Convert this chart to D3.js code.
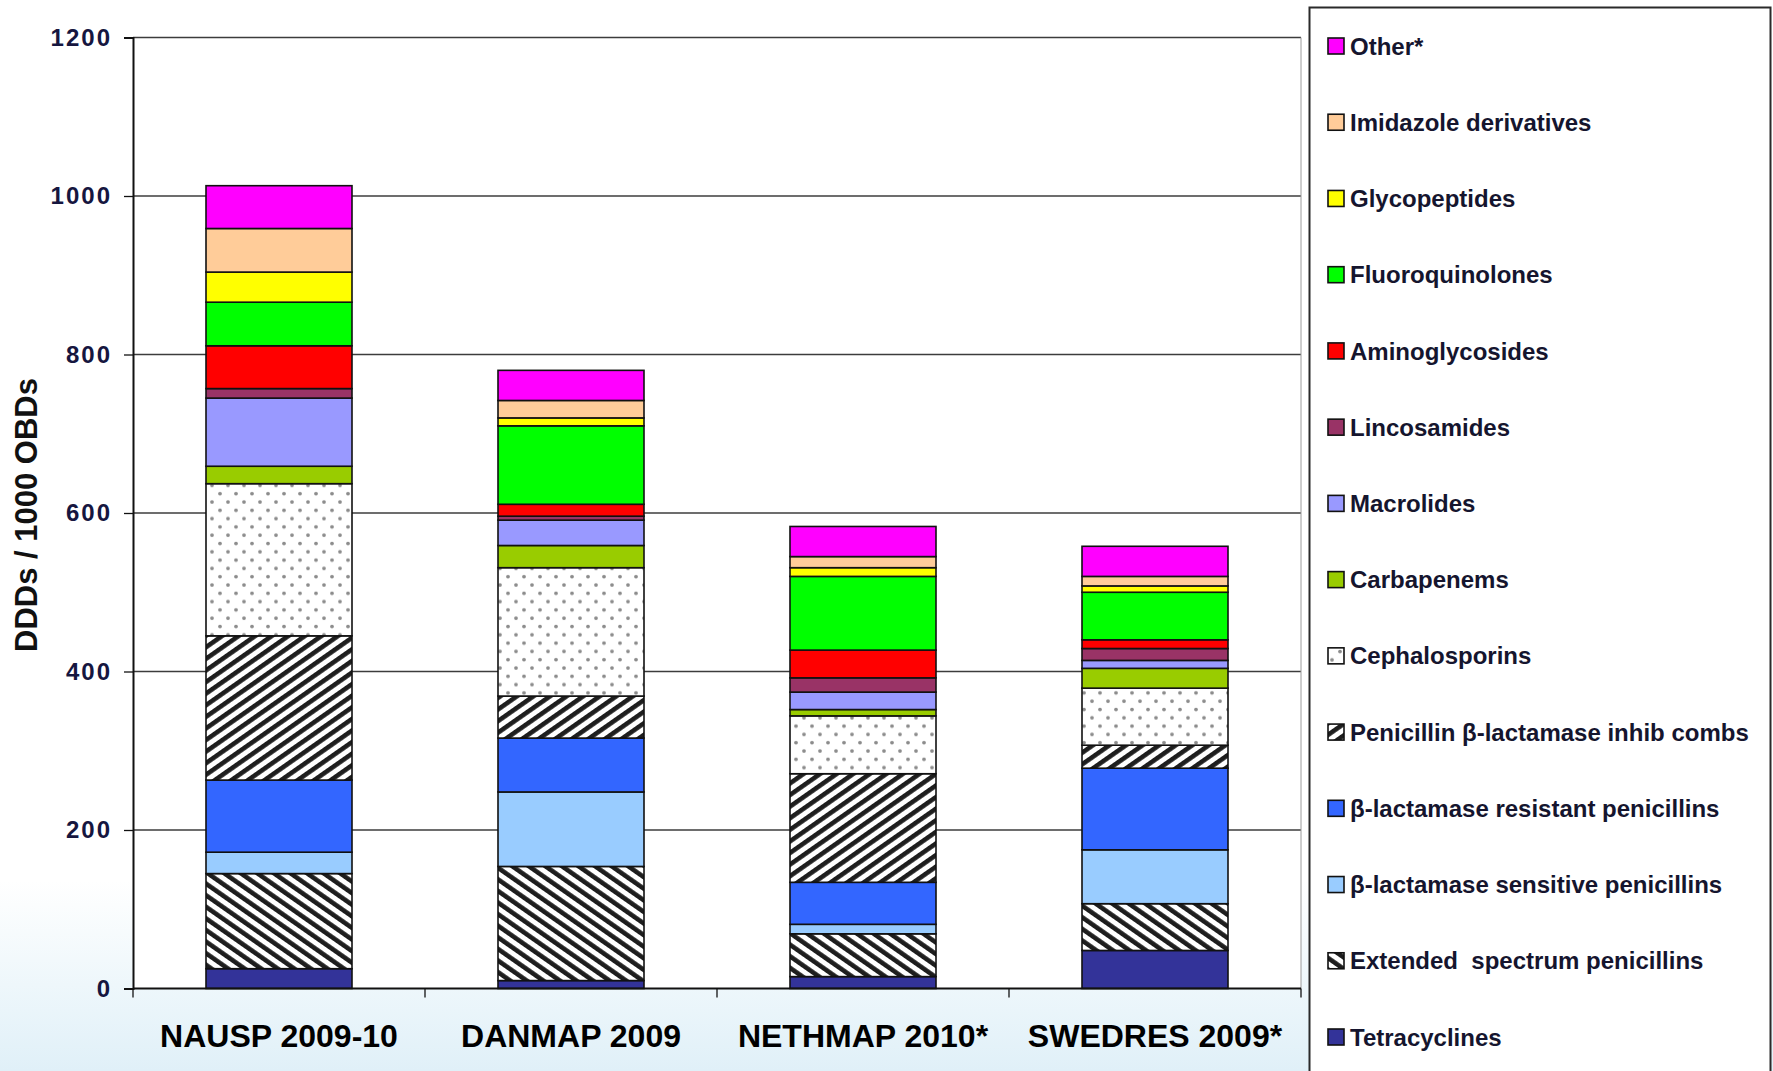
<!DOCTYPE html>
<html>
<head>
<meta charset="utf-8">
<script src="https://cdn.jsdelivr.net/npm/d3@7"></script>
<style>
  html, body { margin: 0; padding: 0; background: #ffffff; }
  svg { display: block; }
  text { font-family: "Liberation Sans", Arial, sans-serif; }
</style>
</head>
<body>
<svg id="chart" width="1773" height="1071"></svg>
<script>
// ---------------- DATA ----------------
const categories = ["NAUSP 2009-10", "DANMAP 2009", "NETHMAP 2010*", "SWEDRES 2009*"];

// series (bottom to top of stack)
const seriesNames = [
  "Tetracyclines",
  "Extended  spectrum penicillins",
  "β-lactamase sensitive penicillins",
  "β-lactamase resistant penicillins",
  "Penicillin β-lactamase inhib combs",
  "Cephalosporins",
  "Carbapenems",
  "Macrolides",
  "Lincosamides",
  "Aminoglycosides",
  "Fluoroquinolones",
  "Glycopeptides",
  "Imidazole derivatives",
  "Other*"
];

const tetracyclines    = [25, 10, 15, 48];
const extendedSpectrum = [120, 144, 54, 59];
const betaSensitive    = [27, 94, 12, 68];
const betaResistant    = [91, 68, 53, 103];
const penicillinBLI    = [182, 53, 137, 29];
const cephalosporins   = [192, 162, 73, 72];
const carbapenems      = [22, 28, 8, 25];
const macrolides       = [86, 32, 22, 10];
const lincosamides     = [12, 5, 18, 15];
const aminoglycosides  = [54, 15, 35, 11];
const fluoroquinolones = [55, 99, 93, 60];
const glycopeptides    = [38, 10, 11, 8];
const imidazole        = [55, 22, 14, 12];
const other            = [54, 38, 38, 38];

const seriesValues = [tetracyclines, extendedSpectrum, betaSensitive, betaResistant,
  penicillinBLI, cephalosporins, carbapenems, macrolides, lincosamides,
  aminoglycosides, fluoroquinolones, glycopeptides, imidazole, other];

const yTicks = [0, 200, 400, 600, 800, 1000, 1200];
const yTitle = "DDDs / 1000 OBDs";

// ---------------- STYLES ----------------
const fills = [
  "#333399", "url(#hatchBack)", "#99CCFF", "#3366FF", "url(#hatchFwd)",
  "url(#dots)", "#99CC00", "#9999FF", "#993366", "#FF0000",
  "#00FF00", "#FFFF00", "#FFCC99", "#FF00FF"
];

// ---------------- BUILD ----------------
const svg = d3.select("#chart");
const defs = svg.append("defs");

// background gradient at bottom
const bg = defs.append("linearGradient").attr("id", "bgGrad")
  .attr("x1", 0).attr("y1", 0).attr("x2", 0).attr("y2", 1);
bg.append("stop").attr("offset", "0%").attr("stop-color", "#ffffff");
bg.append("stop").attr("offset", "55%").attr("stop-color", "#eef7fb");
bg.append("stop").attr("offset", "100%").attr("stop-color", "#e0f0f8");

const plot = { left: 133, right: 1301, top: 37.5, bottom: 988.5 };

svg.append("rect").attr("x", 0).attr("y", 0).attr("width", 1773).attr("height", 1071).attr("fill", "#ffffff");
svg.append("rect").attr("x", 0).attr("y", 880).attr("width", 1773).attr("height", 191).attr("fill", "url(#bgGrad)");
svg.append("rect").attr("x", plot.left).attr("y", plot.top)
  .attr("width", plot.right - plot.left).attr("height", plot.bottom - plot.top).attr("fill", "#ffffff");

// patterns
function hatch(id, angle) {
  const p = defs.append("pattern").attr("id", id)
    .attr("patternUnits", "userSpaceOnUse")
    .attr("width", 9.5).attr("height", 9.5)
    .attr("patternTransform", `rotate(${angle})`);
  p.append("rect").attr("width", 9.5).attr("height", 9.5).attr("fill", "#ffffff");
  p.append("rect").attr("width", 4.6).attr("height", 9.5).attr("fill", "#1e1e1e");
}
hatch("hatchFwd", 55);
hatch("hatchBack", -55);

const dp = defs.append("pattern").attr("id", "dots")
  .attr("patternUnits", "userSpaceOnUse").attr("width", 16).attr("height", 16.6);
dp.append("rect").attr("width", 16).attr("height", 16.6).attr("fill", "#ffffff");
dp.append("circle").attr("cx", 4).attr("cy", 4).attr("r", 1.9).attr("fill", "#8c8c8c");
dp.append("circle").attr("cx", 12).attr("cy", 12.3).attr("r", 1.9).attr("fill", "#8c8c8c");

// scales
const x = d3.scaleBand().domain(categories)
  .range([plot.left, plot.right]).paddingInner(0.5).paddingOuter(0.25);
const y = d3.scaleLinear().domain([0, 1200]).range([plot.bottom, plot.top]);

// gridlines
svg.append("g").selectAll("line").data(yTicks.filter(d => d > 0)).join("line")
  .attr("x1", plot.left).attr("x2", plot.right)
  .attr("y1", d => y(d)).attr("y2", d => y(d))
  .attr("stroke", "#3c3c3c").attr("stroke-width", 1.3);

// right border of plot
svg.append("line").attr("x1", plot.right).attr("x2", plot.right)
  .attr("y1", plot.top).attr("y2", plot.bottom)
  .attr("stroke", "#9a9a9a").attr("stroke-width", 1);

// stacked data
const table = categories.map((c, i) => {
  const row = { cat: c };
  seriesNames.forEach((s, j) => row[s] = seriesValues[j][i]);
  return row;
});
const stacked = d3.stack().keys(seriesNames)(table);

const gBars = svg.append("g");
stacked.forEach((layer, j) => {
  gBars.append("g").selectAll("rect").data(layer).join("rect")
    .attr("x", d => x(d.data.cat))
    .attr("width", x.bandwidth())
    .attr("y", d => y(d[1]))
    .attr("height", d => y(d[0]) - y(d[1]))
    .attr("fill", fills[j])
    .attr("stroke", "#111111")
    .attr("stroke-width", 1.6);
});

// y axis
const yAxis = d3.axisLeft(y).tickValues(yTicks).tickFormat(d3.format("d")).tickSize(9).tickPadding(12);
const gy = svg.append("g").attr("transform", `translate(${plot.left},0)`).call(yAxis);
gy.select(".domain").attr("stroke", "#111").attr("stroke-width", 2);
gy.selectAll(".tick line").attr("stroke", "#111").attr("stroke-width", 1.3);
gy.selectAll(".tick text")
  .attr("font-family", "'Liberation Sans', Arial, sans-serif")
  .attr("font-weight", "bold").attr("font-size", 24)
  .attr("letter-spacing", 2)
  .attr("fill", "#16163f");

// x axis
const gx = svg.append("g").attr("transform", `translate(0,${plot.bottom})`);
gx.append("line").attr("x1", plot.left).attr("x2", plot.right)
  .attr("y1", 0).attr("y2", 0).attr("stroke", "#111").attr("stroke-width", 2);
const step = x.step();
const boundaries = d3.range(categories.length + 1).map(i => plot.left + i * step);
gx.selectAll("line.tk").data(boundaries).join("line").attr("class", "tk")
  .attr("x1", d => d).attr("x2", d => d).attr("y1", 0).attr("y2", 9)
  .attr("stroke", "#111").attr("stroke-width", 1.3);
gx.selectAll("text").data(categories).join("text")
  .attr("x", d => x(d) + x.bandwidth() / 2)
  .attr("y", 58)
  .attr("text-anchor", "middle")
  .attr("font-weight", "bold").attr("font-size", 32)
  .attr("fill", "#000")
  .text(d => d);

// y title
svg.append("text")
  .attr("transform", `translate(37,515) rotate(-90)`)
  .attr("text-anchor", "middle")
  .attr("font-weight", "bold").attr("font-size", 31)
  .attr("fill", "#111")
  .text(yTitle);

// legend
svg.append("rect").attr("x", 1309.5).attr("y", 7.5).attr("width", 461).attr("height", 1100)
  .attr("fill", "#ffffff").attr("stroke", "#2a2a2a").attr("stroke-width", 2);

const legendOrder = seriesNames.map((s, j) => ({ name: s, fill: fills[j] })).reverse();
const ly = d3.scalePoint().domain(legendOrder.map(d => d.name)).range([46, 1037]);
const lg = svg.append("g").selectAll("g").data(legendOrder).join("g")
  .attr("transform", d => `translate(1328,${ly(d.name)})`);
lg.append("rect").attr("x", 0).attr("y", -8).attr("width", 16).attr("height", 16)
  .attr("fill", d => d.fill).attr("stroke", "#111").attr("stroke-width", 1.6);
lg.append("text").attr("x", 22).attr("y", 0).attr("dy", "0.36em")
  .attr("font-weight", "bold").attr("font-size", 24)
  .attr("fill", "#15152e")
  .style("white-space", "pre")
  .text(d => d.name);
</script>
</body>
</html>
